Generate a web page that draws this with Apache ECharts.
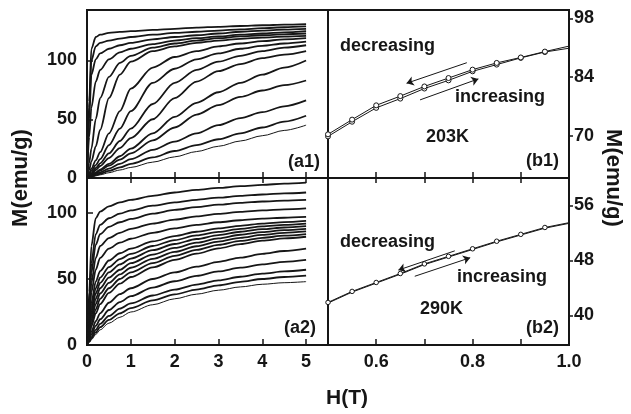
<!DOCTYPE html>
<html><head><meta charset="utf-8">
<script src="https://cdn.jsdelivr.net/npm/echarts@6/dist/echarts.min.js"></script>
<style>html,body{margin:0;padding:0;background:#fff}#c{width:631px;height:414px}</style>
</head><body><div id="c"></div><script>
// ---------- data ----------
const H = [0, 0.05, 0.1, 0.2, 0.3, 0.5, 0.75, 1, 1.5, 2, 2.5, 3, 3.5, 4, 4.5, 5];

// panel (a1)
const a1_1  = [0, 65, 110, 120, 122, 123.5, 124.3, 125, 126, 127, 128, 128.7, 129.4, 130, 130.5, 131];
const a1_2  = [0, 60, 100, 112, 115, 117, 118.7, 120, 122, 123.5, 124.5, 125.5, 126.5, 127.5, 128.3, 129];
const a1_3  = [0, 50, 88, 101, 106, 110, 113, 115, 118, 120, 121.5, 123, 124.5, 125.5, 126.3, 127];
const a1_4  = [0, 35, 60, 82, 92, 101, 107, 110, 114, 117, 119, 120.5, 122, 123, 124, 125];
const a1_5  = [0, 13, 25, 50, 68, 86, 98, 104, 111, 114.5, 117, 119, 120.5, 121.5, 122.3, 123];
const a1_6  = [0, 7, 14, 27, 41, 68, 88, 99, 108, 112, 115, 117, 118.5, 119.5, 120.3, 121];
const a1_7  = [0, 4, 8, 15, 22, 38, 57, 76, 94, 103, 108, 112, 114.5, 116.5, 118, 119];
const a1_8  = [0, 3, 6, 11, 16, 28, 42, 57, 81, 93, 101, 106, 110, 112.5, 114.5, 116];
const a1_9  = [0, 2, 4.2, 8.5, 12.5, 21, 31.5, 42, 63, 81, 92, 99, 104, 108, 111, 113];
const a1_10 = [0, 1.7, 3.4, 6.8, 10.2, 17, 25.5, 34, 50, 68, 82, 91, 97, 102, 105, 108];
const a1_11 = [0, 1.2, 2.4, 4.8, 7.2, 12, 18.5, 25, 38, 52, 64, 73, 81, 88, 94, 100];
const a1_12 = [0, 1, 2, 4.2, 6.3, 10.5, 15.7, 21, 32, 43, 54, 62, 69, 74.5, 79, 83];
const a1_13 = [0, 0.8, 1.6, 3.2, 4.8, 8, 12, 16, 24, 31, 38, 45, 51, 56, 61, 66];
const a1_14 = [0, 0.6, 1.2, 2.4, 3.6, 6, 9, 12, 17.5, 23, 28, 33, 38, 43, 48, 53];
const a1_15 = [0, 0.45, 0.9, 1.8, 2.7, 4.5, 6.8, 9, 13.5, 18, 22.5, 27, 31.5, 36, 40.5, 45];

// panel (a2)
const a2_1  = [0, 40, 75, 96, 101, 105, 108, 110, 113, 115.5, 117.5, 119, 120.3, 121.3, 122.2, 123];
const a2_2  = [0, 35, 62, 84, 91, 96, 99.5, 102, 105.5, 108, 110, 111.6, 112.9, 114, 114.8, 115.5];
const a2_3  = [0, 30, 55, 76, 84, 89.5, 93, 95.5, 99.5, 102.3, 104.5, 106.3, 107.6, 108.7, 109.4, 110];
const a2_4  = [0, 25, 47, 66, 75, 81, 85, 88, 92, 95, 97.4, 99.3, 100.8, 102, 102.8, 103.5];
const a2_5  = [0, 20, 40, 57, 66, 73, 77.5, 80.5, 85, 88.3, 91, 93, 94.5, 95.7, 96.4, 97];
const a2_6  = [0, 16, 32, 48, 56, 64, 69.5, 73, 78.5, 82.5, 85.8, 88.3, 90.3, 92, 93.1, 94];
const a2_7  = [0, 14, 28, 43, 51, 59, 65, 69, 75, 79.5, 83, 85.7, 88, 89.8, 91, 92];
const a2_8  = [0, 12, 25, 39, 47, 55, 61, 65.5, 71.8, 76.5, 80.3, 83.3, 85.8, 87.7, 89, 90];
const a2_9  = [0, 11, 22, 35, 43, 51, 57, 62, 68.5, 73.5, 77.5, 80.8, 83.5, 85.5, 87, 88];
const a2_10 = [0, 10, 19, 31, 39, 47, 53.5, 58.5, 65.3, 70.5, 74.8, 78.3, 81.2, 83.4, 85, 86];
const a2_11 = [0, 8, 16, 27, 35, 43, 50, 55, 62, 67.5, 72, 75.8, 78.8, 81.2, 82.8, 84];
const a2_12 = [0, 7, 14, 24, 31, 39.5, 46.5, 51.5, 58.8, 64.5, 69.2, 73.2, 76.4, 79, 80.7, 82];
const a2_13 = [0, 5, 10, 18, 24, 32, 38.5, 43, 50, 55, 59.3, 63, 66.2, 69, 71.2, 73];
const a2_14 = [0, 4, 8, 14.5, 19.5, 26.5, 32.5, 37, 43.5, 48.3, 52.3, 55.7, 58.6, 61, 63, 64.5];
const a2_15 = [0, 3, 6, 11.5, 16, 22, 27.5, 31.5, 37.5, 42, 45.8, 49, 51.7, 54, 55.7, 57];
const a2_16 = [0, 2.5, 5, 9.5, 13.5, 19, 24, 28, 33.8, 38.3, 42, 45.2, 47.8, 50, 51.5, 52.5];
const a2_17 = [0, 2, 4, 8, 11.5, 16.5, 21, 25, 30.5, 35, 38.5, 41.5, 44, 46, 47.2, 48];

// panels (b1), (b2)
const Hb = [0.5, 0.55, 0.6, 0.65, 0.7, 0.75, 0.8, 0.85, 0.9, 0.95, 1.0];
const b1_dec = [70.4, 73.9, 77.3, 79.5, 81.8, 83.8, 85.8, 87.4, 88.7, 90.1, 91.4];
const b1_inc = [69.9, 73.4, 76.7, 78.9, 81.3, 83.25, 85.4, 87.0, 88.6, 90.0, 90.9];
const b2_dec = [41.9, 43.5, 44.8, 46.1, 47.5, 48.6, 49.7, 50.8, 51.8, 52.8, 53.5];
const b2_inc = [41.8, 43.4, 44.7, 46.0, 47.4, 48.5, 49.6, 50.7, 51.7, 52.7, 53.4];

// arrows [x1,y1,x2,y2] in data units
const b1_arrowDec = [0.788, 87.45, 0.663, 82.55];
const b1_arrowInc = [0.691, 78.6, 0.812, 83.6];
const b2_arrowDec = [0.763, 49.4, 0.646, 46.6];
const b2_arrowInc = [0.680, 45.7, 0.795, 48.4];

// ticks
const a_xLabels = [0, 1, 2, 3, 4, 5];
const a_xTicks = [1, 2, 3, 4, 5];
const a_yLabels = [0, 50, 100];
const a_yTicks = [50, 100];
const b_xLabels = [0.6, 0.8, 1.0];
const b_xTicks = [0.6, 0.7, 0.8, 0.9];
const b1_yLabels = [70, 84, 98];
const b2_yLabels = [40, 48, 56];

// ---------- chart ----------
const INK = '#161616';
const FONT = '"Liberation Sans", Arial, Helvetica, sans-serif';
const labelStyle = {color: INK, fontFamily: FONT, fontWeight: 'bold', fontSize: 18};

function grid(l, t, w, h) {
  return {left: l, top: t, width: w, height: h, show: true, borderColor: INK, borderWidth: 2, backgroundColor: 'transparent'};
}
function axis(base) {
  return Object.assign({
    type: 'value', axisLine: {show: false}, splitLine: {show: false}
  }, base);
}
function ticks(vals, inside, len) {
  return {show: true, inside: inside, length: len, customValues: vals, lineStyle: {color: INK, width: 1.5}};
}
function labels(vals, margin, fmt) {
  const o = Object.assign({show: true, margin: margin, customValues: vals}, labelStyle);
  if (fmt) o.formatter = fmt;
  return o;
}

const aSets = [
  [a1_1, a1_2, a1_3, a1_4, a1_5, a1_6, a1_7, a1_8, a1_9, a1_10, a1_11, a1_12, a1_13, a1_14, a1_15],
  [a2_1, a2_2, a2_3, a2_4, a2_5, a2_6, a2_7, a2_8, a2_9, a2_10, a2_11, a2_12, a2_13, a2_14, a2_15, a2_16, a2_17]
];
const series = [];
aSets.forEach((set, gi) => {
  set.forEach((c, k) => {
    series.push({
      type: 'line', xAxisIndex: gi, yAxisIndex: gi,
      data: H.map((h, i) => [h, c[i]]),
      showSymbol: false, smooth: 0.3, smoothMonotone: 'x',
      lineStyle: {color: INK, width: k === set.length - 1 ? 1 : 1.8},
      emphasis: {disabled: true}, silent: true
    });
  });
});

function arrowLines(arrs) {
  return {
    silent: true, symbol: ['none', 'arrow'], symbolSize: 7,
    lineStyle: {color: INK, width: 1, type: 'solid'},
    label: {show: false}, emphasis: {disabled: true},
    data: arrs.map(a => [{coord: [a[0], a[1]]}, {coord: [a[2], a[3]]}])
  };
}
function bSeries(idx, vals, size, marks, withMarkers) {
  const s = {
    type: 'line', xAxisIndex: idx, yAxisIndex: idx,
    data: Hb.map((h, i) => (i === Hb.length - 1 ? {value: [h, vals[i]], symbol: 'none'} : [h, vals[i]])),
    symbol: withMarkers ? 'circle' : 'none', symbolSize: size, showSymbol: withMarkers,
    itemStyle: {color: '#fff', borderColor: INK, borderWidth: 1},
    lineStyle: {color: INK, width: 1},
    emphasis: {disabled: true}, silent: true
  };
  if (marks) s.markLine = marks;
  return s;
}
series.push(bSeries(2, b1_inc, 5, null, true));
series.push(bSeries(2, b1_dec, 5, arrowLines([b1_arrowDec, b1_arrowInc]), true));
series.push(bSeries(3, b2_inc, 1, null, false));
series.push(bSeries(3, b2_dec, 4.5, arrowLines([b2_arrowDec, b2_arrowInc]), true));

function txt(s, x, y) {
  return {
    type: 'text', x: x, y: y, silent: true,
    style: {text: s, fill: INK, font: 'bold 18px ' + FONT, align: 'left', verticalAlign: 'middle',
            textAlign: 'left', textVerticalAlign: 'middle'}
  };
}
function ctxt(s, x, y, rot, size) {
  return {
    type: 'text', x: x, y: y, rotation: rot, silent: true,
    style: {text: s, fill: INK, font: 'bold ' + size + 'px ' + FONT, align: 'center', verticalAlign: 'middle',
            textAlign: 'center', textVerticalAlign: 'middle'}
  };
}

const option = {
  animation: false,
  grid: [grid(87, 10, 241, 168), grid(87, 178, 241, 167), grid(328, 10, 241, 168), grid(328, 178, 241, 167)],
  xAxis: [
    axis({gridIndex: 0, min: 0, max: 5.5, axisTick: ticks(a_xTicks, true, 6), axisLabel: {show: false}}),
    axis({gridIndex: 1, min: 0, max: 5.5, axisTick: ticks(a_xTicks, true, 6), axisLabel: labels(a_xLabels, 8)}),
    axis({gridIndex: 2, min: 0.5, max: 1.0, axisTick: ticks(b_xTicks, true, 6), axisLabel: {show: false}}),
    axis({gridIndex: 3, min: 0.5, max: 1.0, axisTick: ticks(b_xTicks, true, 6),
          axisLabel: labels(b_xLabels, 8, v => Number(v).toFixed(1))}),
    axis({gridIndex: 1, position: 'top', min: 0, max: 5.5, axisTick: ticks(a_xTicks, true, 5), axisLabel: {show: false}}),
    axis({gridIndex: 3, position: 'top', min: 0.5, max: 1.0, axisTick: ticks(b_xTicks, true, 5), axisLabel: {show: false}})
  ],
  yAxis: [
    axis({gridIndex: 0, min: 0, max: 143, axisTick: ticks(a_yTicks, true, 6), axisLabel: labels(a_yLabels, 10)}),
    axis({gridIndex: 1, min: 0, max: 126.5, axisTick: ticks(a_yTicks, true, 6), axisLabel: labels(a_yLabels, 10)}),
    axis({gridIndex: 2, position: 'right', min: 60, max: 100, axisTick: ticks(b1_yLabels, false, 4), axisLabel: labels(b1_yLabels, 5)}),
    axis({gridIndex: 3, position: 'right', min: 35.7, max: 60, axisTick: ticks(b2_yLabels, false, 4), axisLabel: labels(b2_yLabels, 5)})
  ],
  series: series,
  graphic: [
    txt('decreasing', 340, 46),
    txt('increasing', 455, 97),
    txt('203K', 426, 137),
    txt('(b1)', 526, 161),
    txt('(a1)', 288, 162),
    txt('decreasing', 340, 242),
    txt('increasing', 457, 277),
    txt('290K', 420, 309),
    txt('(b2)', 526, 328),
    txt('(a2)', 284, 328),
    ctxt('H(T)', 347, 398, 0, 21),
    ctxt('M(emu/g)', 21, 178, Math.PI / 2, 22),
    ctxt('M(emu/g)', 613, 178, -Math.PI / 2, 22)
  ]
};

const chart = echarts.init(document.getElementById('c'), null, {renderer: 'canvas'});
chart.setOption(option);
</script></body></html>
